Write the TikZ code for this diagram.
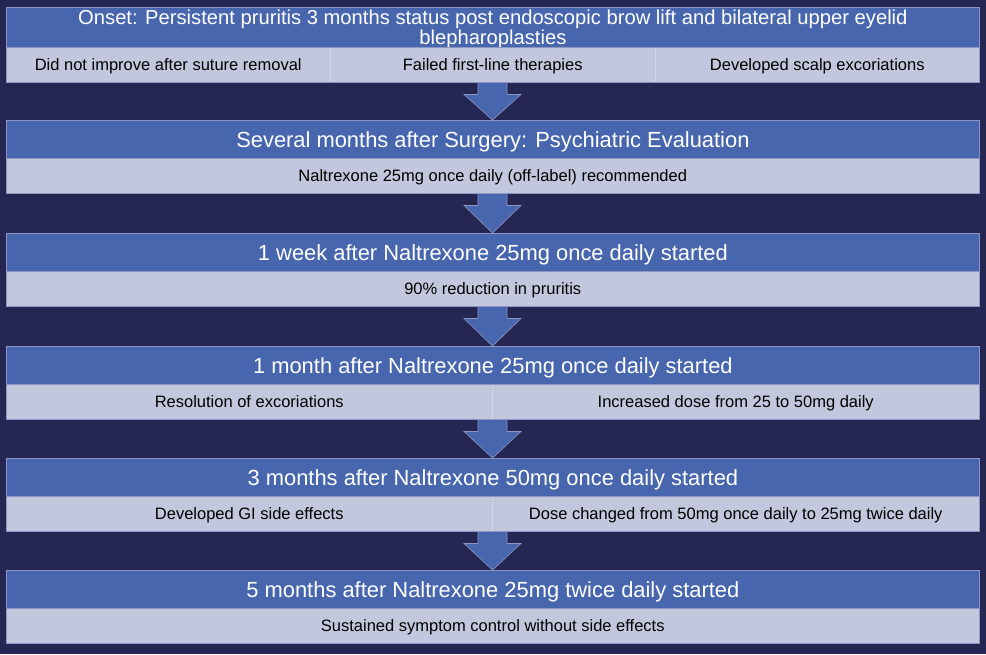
\documentclass[tikz,border=0pt]{standalone}
\usepackage{fontspec}
\setmainfont{Liberation Sans}
\usetikzlibrary{calc}
\definecolor{bg}{HTML}{252652}
\definecolor{hdrblue}{HTML}{4766AE}
\definecolor{subfill}{HTML}{C3C7DD}
\definecolor{edge}{HTML}{8A96C2}
\definecolor{divline}{HTML}{D2D5E7}
\begin{document}
\begin{tikzpicture}[x=1pt,y=-1pt,
  hdr/.style={draw=edge, fill=hdrblue, line width=0.8pt, inner sep=0pt, minimum width=973pt, minimum height=38pt, text=white, font=\fontsize{21.9}{26}\selectfont, text height=15.8pt, text depth=0pt, anchor=north west},
  cell/.style={draw=divline, fill=subfill, line width=0.5pt, inner sep=0pt, minimum height=35pt, text=black, font=\fontsize{16.5}{19}\selectfont, text height=11.9pt, text depth=0pt, anchor=north west},
  subedge/.style={draw=edge, line width=0.8pt},
  downarrow/.style={draw=edge, fill=hdrblue, line width=0.6pt}
]
\fill[bg] (0,0) rectangle (986,654);
\useasboundingbox (0,0) rectangle (986,654);

% Block 1
\node[hdr, minimum height=40pt, font=\fontsize{20.2}{19.5}\selectfont, align=center, text height=34pt, text depth=0pt] (h1) at (6,7) {Onset: Persistent pruritis 3 months status post endoscopic brow lift and bilateral upper eyelid\\blepharoplasties};
\node[cell, minimum width=324pt] (c1a) at (6,47) {Did not improve after suture removal};
\node[cell, minimum width=325pt] (c1b) at (330,47) {Failed first-line therapies};
\node[cell, minimum width=324pt] (c1c) at (655,47) {Developed scalp excoriations};
\draw[subedge] (c1a.north west) rectangle (c1c.south east);

% Block 2
\node[hdr] (h2) at (6,120) {Several months after Surgery: Psychiatric Evaluation};
\node[cell, minimum width=973pt] (c2a) at (6,158) {Naltrexone 25mg once daily (off-label) recommended};
\draw[subedge] (c2a.north west) rectangle (c2a.south east);

% Block 3
\node[hdr] (h3) at (6,233) {1 week after Naltrexone 25mg once daily started};
\node[cell, minimum width=973pt] (c3a) at (6,271) {90\% reduction in pruritis};
\draw[subedge] (c3a.north west) rectangle (c3a.south east);

% Block 4
\node[hdr] (h4) at (6,346) {1 month after Naltrexone 25mg once daily started};
\node[cell, minimum width=486pt] (c4a) at (6,384) {Resolution of excoriations};
\node[cell, minimum width=487pt] (c4b) at (492,384) {Increased dose from 25 to 50mg daily};
\draw[subedge] (c4a.north west) rectangle (c4b.south east);

% Block 5
\node[hdr] (h5) at (6,458) {3 months after Naltrexone 50mg once daily started};
\node[cell, minimum width=486pt] (c5a) at (6,496) {Developed GI side effects};
\node[cell, minimum width=487pt] (c5b) at (492,496) {Dose changed from 50mg once daily to 25mg twice daily};
\draw[subedge] (c5a.north west) rectangle (c5b.south east);

% Block 6
\node[hdr] (h6) at (6,570) {5 months after Naltrexone 25mg twice daily started};
\node[cell, minimum width=973pt] (c6a) at (6,608) {Sustained symptom control without side effects};
\draw[subedge] (c6a.north west) rectangle (c6a.south east);

% Arrows between blocks
\foreach \s/\t in {c1b/h2, c2a/h3, c3a/h4, c4a/h5, c5a/h6}{
  \path let \p1=(\s.south), \p2=(\t.north) in
    coordinate (top) at (492.5,\y1)
    coordinate (tip) at (492.5,\y2);
  \draw[downarrow]
    ($(top)+(-14.5,0)$) -- ($(top)+(14.5,0)$) -- ($(top)+(14.5,12)$) --
    ($(top)+(28.5,12)$) -- (tip) -- ($(top)+(-28.5,12)$) --
    ($(top)+(-14.5,12)$) -- cycle;
}
\end{tikzpicture}
\end{document}
